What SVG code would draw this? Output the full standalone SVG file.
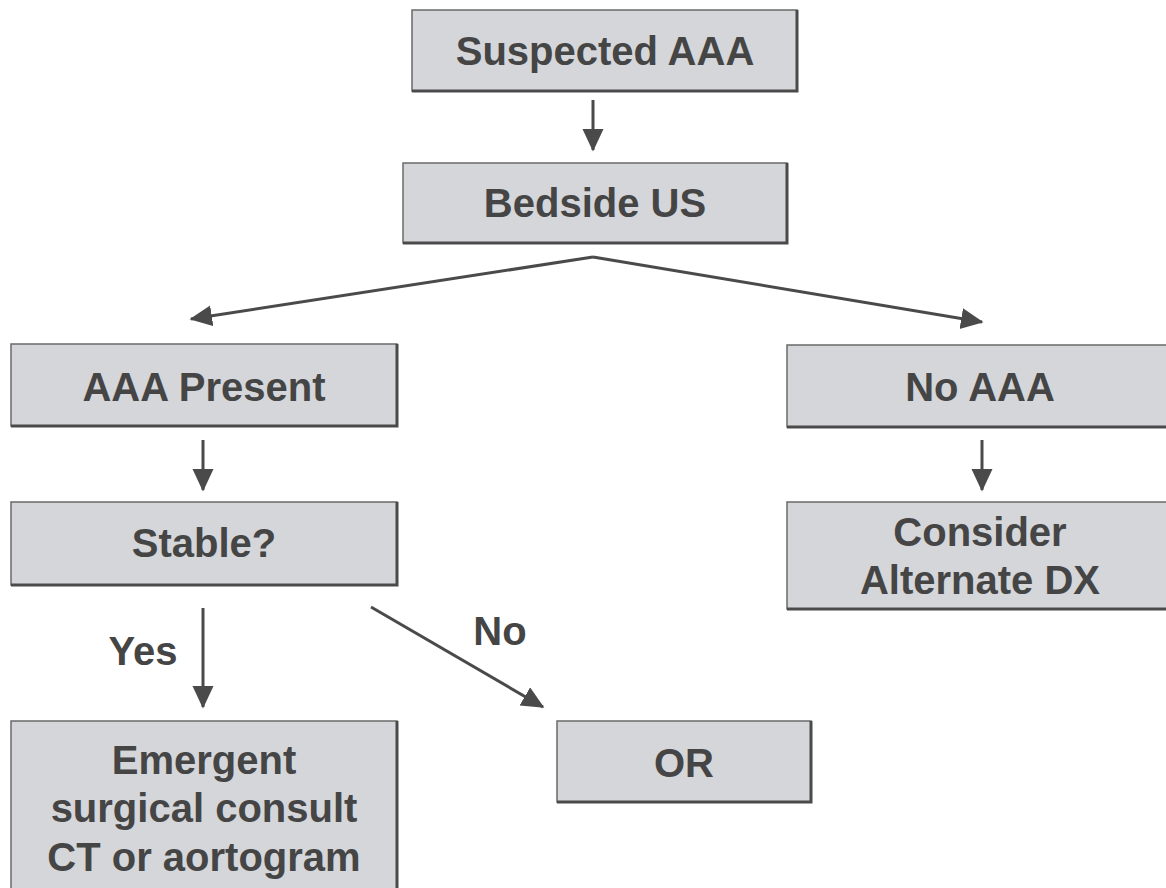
<svg xmlns="http://www.w3.org/2000/svg" width="1166" height="888" viewBox="0 0 1166 888">
<style>
.box{fill:#d4d6da;stroke:#6a6a6a;stroke-width:1.5}
.sh{fill:none;stroke:#4a4a4a;stroke-width:3}
.t{font-family:"Liberation Sans",Arial,sans-serif;font-weight:bold;font-size:40px;fill:#454545;text-anchor:middle}
.c{stroke:#4a4a4a;stroke-width:3;fill:none;marker-end:url(#ah)}
</style>
<defs>
<marker id="ah" markerWidth="8" markerHeight="8" refX="7" refY="3.5" orient="auto" markerUnits="strokeWidth">
<path d="M0,0 L7.5,3.5 L0,7 Z" fill="#4a4a4a"/>
</marker>
</defs>
<rect width="1166" height="888" fill="#ffffff"/>
<g id="suspected">
<rect class="box" x="412" y="10" width="385" height="81"/>
<path class="sh" d="M797,10 V91 H412"/>
<text class="t" x="605" y="65">Suspected AAA</text>
</g>
<g id="bedside">
<rect class="box" x="403" y="163" width="384" height="80"/>
<path class="sh" d="M787,163 V243 H403"/>
<text class="t" x="595" y="217">Bedside US</text>
</g>
<g id="present">
<rect class="box" x="11" y="344" width="386" height="82"/>
<path class="sh" d="M397,344 V426 H11"/>
<text class="t" x="204" y="401">AAA Present</text>
</g>
<g id="noaaa">
<rect class="box" x="787" y="345" width="385" height="82"/>
<path class="sh" d="M787,427 H1172"/>
<text class="t" x="980" y="401">No AAA</text>
</g>
<g id="stable">
<rect class="box" x="11" y="502" width="386" height="83"/>
<path class="sh" d="M397,502 V585 H11"/>
<text class="t" x="204" y="557">Stable?</text>
</g>
<g id="consider">
<rect class="box" x="787" y="502" width="385" height="107"/>
<path class="sh" d="M787,609 H1172"/>
<text class="t" x="980" y="546">Consider</text>
<text class="t" x="980" y="594">Alternate DX</text>
</g>
<g id="emergent">
<rect class="box" x="11" y="721" width="386" height="175"/>
<path class="sh" d="M397,721 V896"/>
<text class="t" x="204" y="774">Emergent</text>
<text class="t" x="204" y="822">surgical consult</text>
<text class="t" x="204" y="871">CT or aortogram</text>
</g>
<g id="or">
<rect class="box" x="557" y="721" width="254" height="81"/>
<path class="sh" d="M811,721 V802 H557"/>
<text class="t" x="684" y="777">OR</text>
</g>
<g id="connectors">
<line class="c" x1="593" y1="100" x2="593" y2="150"/>
<line class="c" x1="593" y1="257" x2="191" y2="319"/>
<line class="c" x1="593" y1="257" x2="982" y2="322"/>
<line class="c" x1="203" y1="440" x2="203" y2="490"/>
<line class="c" x1="982" y1="440" x2="982" y2="490"/>
<line class="c" x1="203" y1="608" x2="203" y2="707"/>
<line class="c" x1="371" y1="607" x2="543" y2="707"/>
<text class="t" x="143" y="665">Yes</text>
<text class="t" x="500" y="645">No</text>
</g>
</svg>
